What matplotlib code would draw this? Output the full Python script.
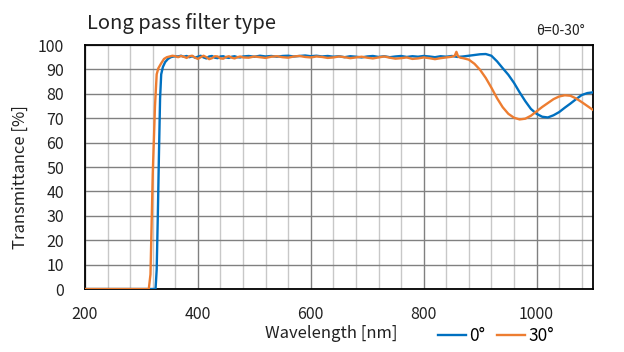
import numpy as np
import matplotlib.pyplot as plt
from matplotlib.lines import Line2D

plt.rcParams['font.family'] = ['Noto Sans CJK JP', 'DejaVu Sans']

# Dati: 0 gradi
wl_0 = [200, 325, 327, 329, 331, 333, 335, 338, 342, 347, 352, 355, 360, 365, 370, 375,
        380, 385, 390, 395, 400, 405, 410, 415, 420, 425, 430, 435, 440, 445, 450, 455,
        460, 465, 470, 475, 480, 490, 500, 510, 520, 530, 540, 550, 560, 570, 580, 590,
        600, 610, 620, 630, 640, 650, 660, 670, 680, 690, 700, 710, 720, 730, 740, 750,
        760, 770, 780, 790, 800, 810, 820, 830, 840, 850, 860, 870, 880, 890, 900, 910,
        920, 930, 940, 950, 960, 970, 980, 990, 1000, 1010, 1020, 1030, 1040, 1050, 1060,
        1070, 1080, 1090, 1100]
tr_0 = [0, 0, 8, 30, 55, 78, 88, 91, 93, 94.3, 95.0, 95.2, 95.4, 95.3, 95.6, 95.2,
        95.5, 95.0, 95.4, 94.8, 95.2, 95.6, 94.9, 94.5, 95.3, 95.5, 94.8, 94.6, 95.3, 95.4, 94.9, 94.7,
        95.2, 95.4, 95.0, 94.9, 95.3, 95.5, 95.2, 95.6, 95.3, 95.5, 95.2, 95.5, 95.6, 95.3, 95.5, 95.7,
        95.4, 95.6, 95.3, 95.5, 95.2, 95.4, 95.0, 95.4, 95.2, 94.9, 95.3, 95.5, 95.1, 95.4, 95.0, 95.3,
        95.5, 95.1, 95.4, 95.2, 95.5, 95.3, 95.0, 95.4, 95.2, 95.5, 95.1, 95.3, 95.6, 95.9, 96.2, 96.3,
        95.6, 93.3, 90.5, 87.8, 84.5, 80.6, 77.0, 73.8, 71.8, 70.6, 70.3, 71.2, 72.5, 74.3, 76.0,
        77.8, 79.5, 80.3, 80.6]

# 30 gradi
wl_30 = [200, 313, 316, 320, 324, 327, 330, 335, 340, 345, 350, 355, 360, 365, 370, 375,
         380, 385, 390, 395, 400, 405, 410, 415, 420, 425, 430, 435, 440, 445, 450, 455,
         460, 465, 470, 475, 480, 490, 500, 510, 520, 530, 540, 550, 560, 570, 580, 590,
         600, 610, 620, 630, 640, 650, 660, 670, 680, 690, 700, 710, 720, 730, 740, 750,
         760, 770, 780, 790, 800, 810, 820, 830, 840, 850, 855, 858, 861, 865, 870, 880,
         890, 900, 910, 920, 930, 940, 950, 960, 970, 980, 990, 1000, 1010, 1020, 1030,
         1040, 1050, 1060, 1070, 1080, 1090, 1100]
tr_30 = [0, 0, 6, 47, 75, 88, 90.5, 92.5, 94.3, 95.0, 95.3, 95.6, 95.4, 95.0, 95.5, 95.2,
         94.7, 95.4, 95.6, 94.8, 94.3, 95.0, 95.6, 95.0, 94.2, 94.6, 95.4, 95.3, 94.5, 94.4, 95.1, 95.4,
         94.8, 94.5, 95.0, 95.3, 94.9, 94.8, 95.3, 95.0, 94.7, 95.2, 95.4, 95.0, 94.8, 95.3, 95.5, 95.1,
         94.9, 95.3, 95.1, 94.7, 94.9, 95.3, 95.0, 94.6, 94.9, 95.2, 94.8, 94.5, 94.9, 95.3, 94.8, 94.4,
         94.6, 94.9, 94.3, 94.5, 94.9, 94.6, 94.2, 94.6, 94.9, 95.2, 95.6, 97.2, 95.3, 94.8, 94.6, 94.0,
         92.3, 89.8, 86.5, 82.5, 78.2, 74.5, 71.8, 70.2, 69.5, 69.8, 71.0, 72.8, 74.6, 76.2, 77.8,
         78.9, 79.4, 79.2, 78.1, 76.6, 75.0, 73.4]

blu = '#0070C0'
arancio = '#ED7D31'

fig = plt.figure(figsize=(6.24, 3.52), dpi=100)
ax = fig.add_axes([85/624, 63/352, 508/624, 244/352])

ax.plot(wl_0, tr_0, color=blu, lw=1.7, zorder=3)
ax.plot(wl_30, tr_30, color=arancio, lw=1.7, zorder=3)

ax.set_xlim(200, 1100)
ax.set_ylim(0, 100)
ax.set_xticks(np.arange(200, 1001, 200))
ax.set_xticks(np.arange(200, 1100, 40), minor=True)
ax.set_yticks(np.arange(0, 101, 10))
ax.grid(which='major', color='#808080', lw=1.0)
ax.grid(which='minor', axis='x', color='#c8c8c8', lw=1.0)
ax.tick_params(which='both', length=0, labelsize=11.5, colors='#222222')
ax.tick_params(axis='y', pad=15)
ax.tick_params(axis='x', pad=12)
for s in ax.spines.values():
    s.set_color('black')
    s.set_linewidth(1.3)

fig.text(87/624, 1-23/352, 'Long pass filter type', fontsize=14.5, va='center', ha='left', color='#222222')
fig.text(585/624, 1-31/352, 'θ=0-30°', fontsize=10, va='center', ha='right', color='#222222')
fig.text(331/624, 1-333/352, 'Wavelength [nm]', fontsize=12, ha='center', va='center', color='#222222')
fig.text(20/624, 1-177/352, 'Transmittance [%]', fontsize=12, rotation=90, ha='center', va='center', color='#222222')

maniglie = [Line2D([], [], color=blu, lw=1.7), Line2D([], [], color=arancio, lw=1.7)]
fig.legend(maniglie, ['0°', '30°'], loc='center', bbox_to_anchor=(496/624, 1-336/352), ncol=2,
           frameon=False, fontsize=12.5, handlelength=1.6, handletextpad=0.2, columnspacing=0.7)

plt.savefig('out.png', dpi=100)
